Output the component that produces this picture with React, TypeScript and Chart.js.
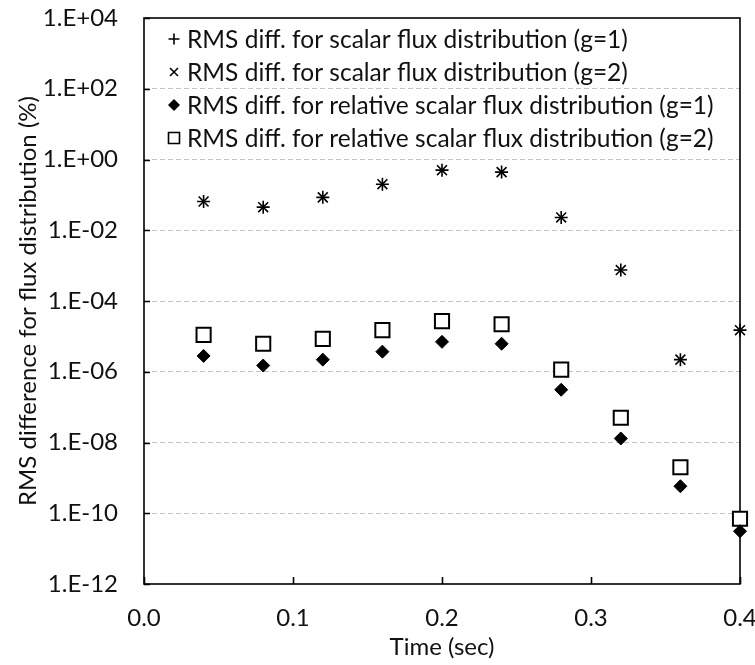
import React, { useEffect, useRef } from 'react';
import { Chart, registerables } from 'chart.js';

Chart.register(...registerables);

const times = [0.04, 0.08, 0.12, 0.16, 0.2, 0.24, 0.28, 0.32, 0.36, 0.4];
const scalarG1 = [0.065, 0.045, 0.085, 0.2, 0.5, 0.44, 0.023, 7.5e-4, 2.2e-6, 1.5e-5];
const scalarG2 = [0.065, 0.045, 0.085, 0.2, 0.5, 0.44, 0.023, 7.5e-4, 2.2e-6, 1.5e-5];
const relativeG1 = [2.8e-6, 1.5e-6, 2.2e-6, 3.7e-6, 7.0e-6, 6.2e-6, 3.1e-7, 1.3e-8, 5.8e-10, 3.1e-11];
const relativeG2 = [1.1e-5, 6.2e-6, 8.5e-6, 1.5e-5, 2.7e-5, 2.2e-5, 1.15e-6, 5.0e-8, 2.0e-9, 7.0e-11];
const seriesLabels = [
  'RMS diff. for scalar flux distribution (g=1)',
  'RMS diff. for scalar flux distribution (g=2)',
  'RMS diff. for relative scalar flux distribution (g=1)',
  'RMS diff. for relative scalar flux distribution (g=2)',
];
const yTickValues = [1e-12, 1e-10, 1e-8, 1e-6, 1e-4, 1e-2, 1e0, 1e2, 1e4];
const xTickValues = [0, 0.1, 0.2, 0.3, 0.4];
const xTitle = 'Time (sec)';
const yTitle = 'RMS difference for flux distribution (%)';

const FONT = 'Lato, "Noto Sans", sans-serif';
const FS = 24;
const TEXT = '#111';

function fmtExp(v: number): string {
  const e = Math.round(Math.log10(v));
  const sign = e < 0 ? '-' : '+';
  return `1.E${sign}${String(Math.abs(e)).padStart(2, '0')}`;
}

function drawLegendSymbol(ctx: CanvasRenderingContext2D, style: string, x: number, y: number) {
  ctx.save();
  ctx.strokeStyle = '#000';
  ctx.fillStyle = '#000';
  ctx.lineWidth = 1.6;
  ctx.beginPath();
  if (style === 'cross') {
    const r = 5.5;
    ctx.moveTo(x - r, y); ctx.lineTo(x + r, y);
    ctx.moveTo(x, y - r); ctx.lineTo(x, y + r);
    ctx.stroke();
  } else if (style === 'crossRot') {
    const r = 4;
    ctx.moveTo(x - r, y - r); ctx.lineTo(x + r, y + r);
    ctx.moveTo(x - r, y + r); ctx.lineTo(x + r, y - r);
    ctx.stroke();
  } else if (style === 'rectRot') {
    const r = 6;
    ctx.moveTo(x - r, y); ctx.lineTo(x, y - r); ctx.lineTo(x + r, y); ctx.lineTo(x, y + r);
    ctx.closePath();
    ctx.fill();
  } else {
    const r = 5.5;
    ctx.fillStyle = '#fff';
    ctx.rect(x - r, y - r, 2 * r, 2 * r);
    ctx.fill();
    ctx.stroke();
  }
  ctx.restore();
}

const framePlugin = {
  id: 'frameAndTicks',
  beforeDatasetsDraw(chart: any) {
    const { ctx, chartArea } = chart;
    const { left, right, top, bottom } = chartArea;
    ctx.save();
    ctx.strokeStyle = '#000';
    ctx.lineWidth = 1.6;
    ctx.strokeRect(left, top, right - left, bottom - top);
    ctx.beginPath();
    const ys = chart.scales.y;
    ys.ticks.forEach((t: any) => {
      const py = Math.round(ys.getPixelForValue(t.value)) + 0.5;
      ctx.moveTo(left, py);
      ctx.lineTo(left + 6, py);
    });
    const xs = chart.scales.x;
    xs.ticks.forEach((t: any) => {
      const px = Math.round(xs.getPixelForValue(t.value)) + 0.5;
      ctx.moveTo(px, bottom);
      ctx.lineTo(px, bottom - 7);
    });
    ctx.stroke();
    ctx.restore();
  },
  afterDraw(chart: any) {
    const { ctx, chartArea } = chart;
    ctx.save();
    ctx.font = `24.5px ${FONT}`;
    ctx.fillStyle = TEXT;
    ctx.textBaseline = 'middle';
    ctx.textAlign = 'left';
    chart.data.datasets.forEach((ds: any, i: number) => {
      const y = chartArea.top + 21 + i * 33;
      drawLegendSymbol(ctx, ds.pointStyle, chartArea.left + 30, y);
      ctx.fillText(ds.label, chartArea.left + 43, y + 1);
    });
    ctx.restore();
  },
};

export default function App() {
  const canvasRef = useRef<HTMLCanvasElement | null>(null);

  useEffect(() => {
    if (!canvasRef.current) return;
    const mk = (vals: number[]) => times.map((t, i) => ({ x: t, y: vals[i] }));
    const chart = new Chart(canvasRef.current, {
      type: 'scatter',
      data: {
        datasets: [
          {
            label: seriesLabels[0], data: mk(scalarG1), pointStyle: 'cross', pointRadius: 6.5,
            borderColor: '#000', backgroundColor: '#000', pointBorderWidth: 1.6, clip: false,
          },
          {
            label: seriesLabels[1], data: mk(scalarG2), pointStyle: 'crossRot', pointRadius: 7,
            borderColor: '#000', backgroundColor: '#000', pointBorderWidth: 1.6, clip: false,
          },
          {
            label: seriesLabels[2], data: mk(relativeG1), pointStyle: 'rectRot', pointRadius: 6.5,
            borderColor: '#000', backgroundColor: '#000', pointBorderWidth: 1, clip: false,
          },
          {
            label: seriesLabels[3], data: mk(relativeG2), pointStyle: 'rect', pointRadius: 10,
            borderColor: '#000', backgroundColor: '#fff', pointBorderWidth: 2, clip: false,
          },
        ],
      } as any,
      options: {
        animation: false,
        responsive: false,
        maintainAspectRatio: false,
        layout: { padding: { top: 18, right: 15, left: 0, bottom: 0 } },
        plugins: { legend: { display: false }, tooltip: { enabled: false } },
        scales: {
          x: {
            type: 'linear',
            min: 0,
            max: 0.4,
            afterBuildTicks: (s: any) => { s.ticks = xTickValues.map((v) => ({ value: v })); },
            afterFit: (s: any) => {
              s.height = 81;
              s.paddingLeft = 0;
              s.paddingRight = 0;
              s.paddingTop = 0;
              s.paddingBottom = 0;
            },
            ticks: {
              font: { family: FONT, size: FS },
              color: TEXT,
              padding: 20,
              maxRotation: 0,
              callback: (v: any) => Number(v).toFixed(1),
            },
            grid: { display: false, drawTicks: false },
            border: { display: false },
            title: {
              display: true, text: xTitle, color: TEXT,
              font: { family: FONT, size: FS }, padding: { top: 0, bottom: 3 },
            },
          },
          y: {
            type: 'logarithmic',
            min: 1e-12,
            max: 1e4,
            afterBuildTicks: (s: any) => { s.ticks = yTickValues.map((v) => ({ value: v })); },
            afterFit: (s: any) => {
              s.width = 144;
              s.paddingTop = 0;
              s.paddingBottom = 0;
              s.paddingLeft = 0;
              s.paddingRight = 0;
            },
            ticks: {
              font: { family: FONT, size: FS },
              color: TEXT,
              padding: 26,
              autoSkip: false,
              callback: (v: any) => fmtExp(Number(v)),
            },
            grid: {
              drawTicks: false,
              lineWidth: 1,
              color: (c: any) =>
                c.tick && (c.tick.value === 1e4 || c.tick.value === 1e-12) ? 'rgba(0,0,0,0)' : '#c4c4c4',
            },
            border: { display: false, dash: [5, 3] },
            title: {
              display: true, text: yTitle, color: TEXT,
              font: { family: FONT, size: FS }, padding: { top: 14, bottom: 0 },
            },
          },
        },
      } as any,
      plugins: [framePlugin],
    });
    return () => chart.destroy();
  }, []);

  return (
    <div style={{ position: 'absolute', left: 0, top: 0, width: 755, height: 665, background: '#fff' }}>
      <canvas ref={canvasRef} width={755} height={665} style={{ width: 755, height: 665, display: 'block' }} />
    </div>
  );
}
